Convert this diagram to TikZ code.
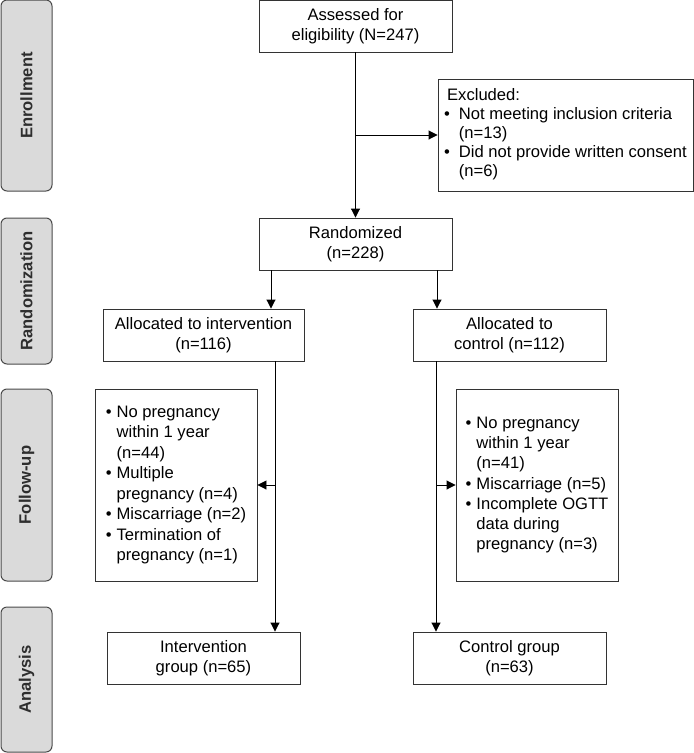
\documentclass[tikz,border=0pt]{standalone}
\usepackage{fontspec}
\setmainfont{Liberation Sans}
\usetikzlibrary{arrows.meta}
\definecolor{panelfill}{HTML}{DADADA}
\definecolor{panelline}{HTML}{4A4A4A}
\definecolor{boxline}{HTML}{333333}
\definecolor{labeltext}{HTML}{2E2E2E}
\begin{document}
\begin{tikzpicture}[x=1pt,y=-1pt,
  box/.style={draw=boxline, line width=0.9pt, inner sep=0pt, align=center,
    font=\fontsize{16.6}{20.3}\selectfont},
  panel/.style={draw=panelline, fill=panelfill, line width=1pt, rounded corners=6pt,
    inner sep=0pt, text=labeltext, font=\fontsize{16.6}{19.6}\selectfont\bfseries},
  arr/.style={-{Triangle[length=9pt,width=9pt]}, line width=0.9pt, draw=black}
]
\useasboundingbox (0,0) rectangle (694,753);

% side panels
\node[panel, rotate=90, minimum width=191, minimum height=51] (penr) at (26.5,95.5) {Enrollment};
\node[panel, rotate=90, minimum width=146, minimum height=51] (prand) at (26.5,291) {Randomization};
\node[panel, rotate=90, minimum width=192, minimum height=51] (pfol) at (26.5,485) {Follow-up};
\node[panel, rotate=90, minimum width=145, minimum height=51] (pana) at (26.5,679.5) {Analysis};

% boxes
\node[box, minimum width=193, minimum height=52] (assess) at (355.5,26) {Assessed for\\eligibility (N=247)};
\node[box, minimum width=255, minimum height=112, font=\fontsize{16.6}{19}\selectfont] (excl) at (565.5,135) {%
\begin{tabular}{@{}l@{\hspace{9pt}}l@{}}
\multicolumn{2}{@{}l@{}}{\hspace{3pt}Excluded:}\\
\textbullet & Not meeting inclusion criteria\\
 & (n=13)\\
\textbullet & Did not provide written consent\\
 & (n=6)
\end{tabular}};
\node[box, minimum width=193, minimum height=52] (rand) at (355.5,244) {Randomized\\(n=228)};
\node[box, minimum width=201, minimum height=52] (ai) at (203.5,335) {Allocated to intervention\\(n=116)};
\node[box, minimum width=193, minimum height=52] (ac) at (509.5,335) {Allocated to\\control (n=112)};
\node[box, minimum width=162, minimum height=192, font=\fontsize{16.6}{20.5}\selectfont] (fl) at (176,485) {%
\begin{tabular}{@{}l@{\hspace{5pt}}l@{}}
\textbullet & No pregnancy\\
 & within 1 year\\
 & (n=44)\\
\textbullet & Multiple\\
 & pregnancy (n=4)\\
\textbullet & Miscarriage (n=2)\\
\textbullet & Termination of\\
 & pregnancy (n=1)
\end{tabular}};
\node[box, minimum width=162, minimum height=192, font=\fontsize{16.6}{20.3}\selectfont] (fr) at (537,485) {%
\begin{tabular}{@{}l@{\hspace{5pt}}l@{}}
\textbullet & No pregnancy\\
 & within 1 year\\
 & (n=41)\\
\textbullet & Miscarriage (n=5)\\
\textbullet & Incomplete OGTT\\
 & data during\\
 & pregnancy (n=3)
\end{tabular}};
\node[box, minimum width=193, minimum height=52] (ig) at (203.5,658) {Intervention\\group (n=65)};
\node[box, minimum width=193, minimum height=52] (cg) at (509.5,658) {Control group\\(n=63)};

% connectors
\draw[arr] (assess.south) -- (rand.north);
\draw[arr] (assess.south |- excl.west) -- (excl.west);
\coordinate (r1) at ([xshift=-84.5pt]rand.south);
\coordinate (r2) at ([xshift=81.5pt]rand.south);
\draw[arr] (r1) -- (r1 |- ai.north);
\draw[arr] (r2) -- (r2 |- ac.north);
\coordinate (li) at ([xshift=71.5pt]ai.south);
\draw[arr] (li) -- (li |- ig.north);
\draw[arr] (li |- fl.east) -- (fl.east);
\coordinate (lc) at ([xshift=-73.5pt]ac.south);
\draw[arr] (lc) -- (lc |- cg.north);
\draw[arr] (lc |- fr.west) -- (fr.west);
\end{tikzpicture}
\end{document}
